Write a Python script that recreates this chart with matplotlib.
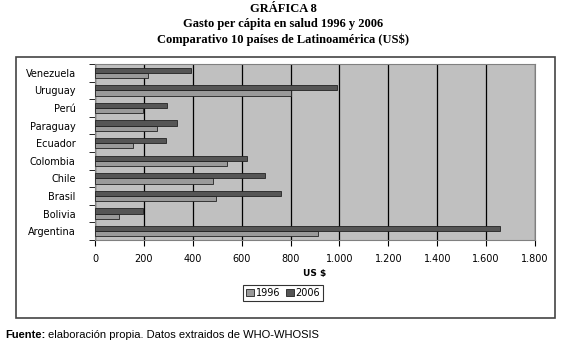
import matplotlib
matplotlib.use("Agg")
import matplotlib.pyplot as plt
from matplotlib.patches import Rectangle
import numpy as np

countries = ["Argentina", "Bolivia", "Brasil", "Chile", "Colombia",
             "Ecuador", "Paraguay", "Perú", "Uruguay", "Venezuela"]
v1996 = [912, 98, 495, 483, 540, 156, 254, 196, 802, 217]
v2006 = [1657, 196, 761, 696, 622, 290, 335, 295, 990, 393]
xticks = [0, 200, 400, 600, 800, 1000, 1200, 1400, 1600, 1800]
xticklabels = ["0", "200", "400", "600", "800", "1.000", "1.200", "1.400", "1.600", "1.800"]

W, H = 565, 343
fig = plt.figure(figsize=(W/100, H/100), dpi=100)
fig.patch.set_facecolor("white")

# outer frame
fig.patches.append(Rectangle((16/W, 1-318/H), (555-16)/W, (318-57)/H,
                             transform=fig.transFigure, fill=False,
                             edgecolor="#444444", linewidth=1.2))

ax = fig.add_axes([95/W, 1-240/H, (535-95)/W, (240-64)/H])
ax.set_facecolor("#c0c0c0")
y = np.arange(len(countries))
h = 0.3
ax.barh(y - h/2, v1996, height=h, color="#9a9a9a", edgecolor="#222222", linewidth=0.6, label="1996", zorder=3)
ax.barh(y + h/2, v2006, height=h, color="#555555", edgecolor="#222222", linewidth=0.6, label="2006", zorder=3)
ax.set_xlim(0, 1800)
ax.set_ylim(-0.5, len(countries) - 0.5)
ax.set_xticks(xticks)
ax.set_xticklabels(xticklabels, fontsize=7)
ax.set_yticks(y)
ax.set_yticklabels(countries, fontsize=7)
ax.tick_params(axis="y", length=0, pad=14)
ax.set_yticks(np.arange(-0.5, len(countries), 1), minor=True)
ax.tick_params(axis="y", which="minor", length=4, direction="out")
ax.tick_params(axis="x", length=4, direction="out", pad=6)
ax.grid(axis="x", color="black", linewidth=0.9, zorder=1)
for s in ax.spines.values():
    s.set_color("#808080")
    s.set_linewidth(0.8)
ax.set_xlabel("US $", fontsize=6.5, fontweight="bold", labelpad=4)

leg = ax.legend(loc="center", bbox_to_anchor=(283/W, 1-293/H), bbox_transform=fig.transFigure,
                ncol=2, fontsize=7, frameon=True, fancybox=False, edgecolor="black",
                handlelength=0.8, handleheight=0.8, handletextpad=0.2, columnspacing=0.6,
                borderpad=0.3)
leg.get_frame().set_linewidth(0.8)

fig.text(283/W, 1-9/H, "GRÁFICA 8", ha="center", va="center", fontsize=9,
         fontweight="bold", family="Liberation Serif")
fig.text(283/W, 1-24/H, "Gasto per cápita en salud 1996 y 2006", ha="center", va="center",
         fontsize=9, fontweight="bold", family="Liberation Serif")
fig.text(283/W, 1-40/H, "Comparativo 10 países de Latinoamérica (US$)", ha="center", va="center",
         fontsize=9, fontweight="bold", family="Liberation Serif")

t1 = fig.text(5/W, 1-335/H, "Fuente:", ha="left", va="center", fontsize=8,
              fontweight="bold", family="Liberation Sans")
fig.canvas.draw()
bb = t1.get_window_extent()
fig.text((bb.x1 + 3)/W, 1-335/H, "elaboración propia. Datos extraidos de WHO-WHOSIS",
         ha="left", va="center", fontsize=8, family="Liberation Sans")

fig.savefig("out.png", dpi=100)
